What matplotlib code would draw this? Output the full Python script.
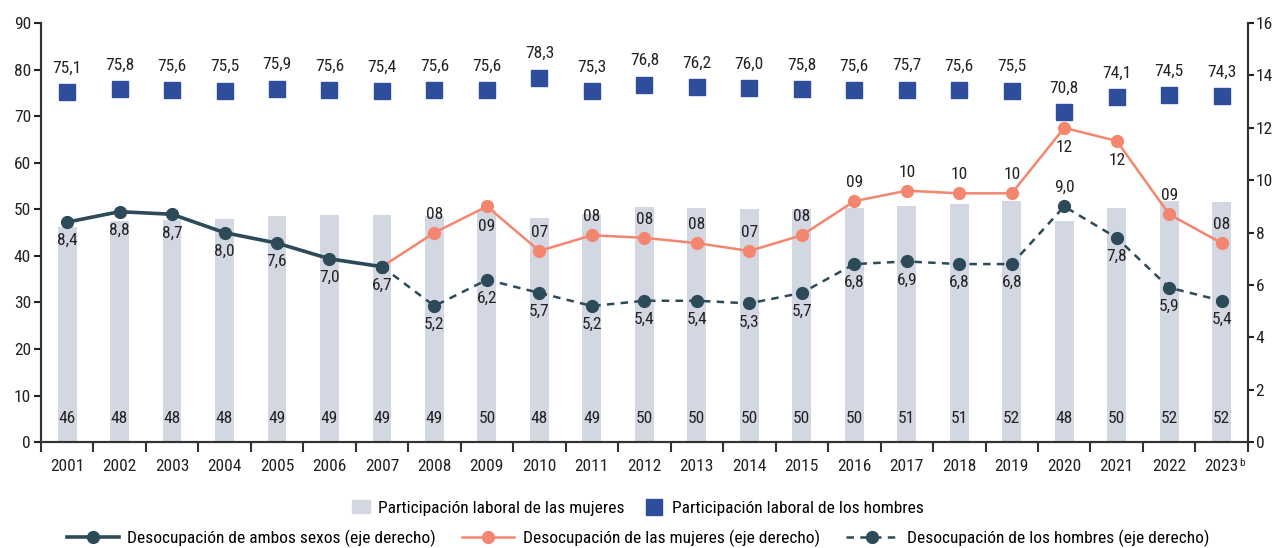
import numpy as np
import matplotlib
matplotlib.use("Agg")
import matplotlib.pyplot as plt
from matplotlib import font_manager
from matplotlib.lines import Line2D
from matplotlib.patches import Patch

# pick a narrow font if there is one
names = {f.name for f in font_manager.fontManager.ttflist}
font = "DejaVu Sans"
for cand in ["Liberation Sans Narrow", "Roboto Condensed", "DejaVu Sans Condensed", "Roboto"]:
    if cand in names:
        font = cand
        break
plt.rcParams["font.family"] = [font, "DejaVu Sans"]

years = ["2001", "2002", "2003", "2004", "2005", "2006", "2007", "2008", "2009", "2010", "2011",
         "2012", "2013", "2014", "2015", "2016", "2017", "2018", "2019", "2020", "2021", "2022", "2023"]
women_part = [46.2, 47.6, 47.7, 48.0, 48.6, 48.8, 48.8, 48.6, 49.8, 48.2, 49.0,
              50.4, 50.2, 50.0, 50.0, 50.2, 50.8, 51.2, 51.8, 47.6, 50.2, 51.8, 51.6]
women_part_lbl = ["46", "48", "48", "48", "49", "49", "49", "49", "50", "48", "49",
                  "50", "50", "50", "50", "50", "51", "51", "52", "48", "50", "52", "52"]
men_part = [75.1, 75.8, 75.6, 75.5, 75.9, 75.6, 75.4, 75.6, 75.6, 78.3, 75.3,
            76.8, 76.2, 76.0, 75.8, 75.6, 75.7, 75.6, 75.5, 70.8, 74.1, 74.5, 74.3]
both_unemp = [8.4, 8.8, 8.7, 8.0, 7.6, 7.0, 6.7] + [np.nan] * 16
women_unemp = [np.nan] * 6 + [6.7, 8.0, 9.0, 7.3, 7.9, 7.8, 7.6, 7.3, 7.9, 9.2, 9.6, 9.5, 9.5,
                              12.0, 11.5, 8.7, 7.6]
women_unemp_lbl = [None] * 7 + ["08", "09", "07", "08", "08", "08", "07", "08", "09", "10", "10", "10",
                                "12", "12", "09", "08"]
men_unemp = [np.nan] * 6 + [6.7, 5.2, 6.2, 5.7, 5.2, 5.4, 5.4, 5.3, 5.7, 6.8, 6.9, 6.8, 6.8,
                            9.0, 7.8, 5.9, 5.4]

c_bar = "#d3d7e2"
c_sq = "#2e4e9c"
c_dark = "#2c4a57"
c_women = "#f4866f"
txt = "#222222"
fs = 12.5

x = np.arange(len(years))

fig = plt.figure(figsize=(12.76, 5.48), dpi=100)
ax = fig.add_axes([0.032, 0.193, 0.946, 0.765])
ax2 = ax.twinx()

ax.bar(x, women_part, width=0.36, color=c_bar, zorder=1)
for i, lbl in enumerate(women_part_lbl):
    ax.text(x[i], 5, lbl, ha="center", va="center", fontsize=fs, color=txt)

ax.plot(x, men_part, ls="none", marker="s", ms=11, color=c_sq, zorder=3)
for i, v in enumerate(men_part):
    ax.annotate(f"{v:.1f}".replace(".", ","), (x[i], v), xytext=(0, 12), textcoords="offset points",
                ha="center", va="bottom", fontsize=fs, color=txt)

ax2.plot(x, both_unemp, color=c_dark, lw=2.6, marker="o", ms=8.5, zorder=4)
ax2.plot(x, women_unemp, color=c_women, lw=1.8, marker="o", ms=8.5, zorder=3)
ax2.plot(x, men_unemp, color=c_dark, lw=1.8, ls=(0, (3, 2.5)), marker="o", ms=8.5, zorder=3)

for i, v in enumerate(both_unemp):
    if not np.isnan(v):
        ax2.annotate(f"{v:.1f}".replace(".", ","), (x[i], v), xytext=(0, -8), textcoords="offset points",
                     ha="center", va="top", fontsize=fs, color=txt)

women_below = {8, 19, 20}
for i, lbl in enumerate(women_unemp_lbl):
    if lbl is None:
        continue
    if i in women_below:
        ax2.annotate(lbl, (x[i], women_unemp[i]), xytext=(0, -9), textcoords="offset points",
                     ha="center", va="top", fontsize=fs, color=txt)
    else:
        ax2.annotate(lbl, (x[i], women_unemp[i]), xytext=(0, 8), textcoords="offset points",
                     ha="center", va="bottom", fontsize=fs, color=txt)

for i, v in enumerate(men_unemp):
    if np.isnan(v) or i == 6:
        continue
    if i == 19:
        ax2.annotate(f"{v:.1f}".replace(".", ","), (x[i], v), xytext=(0, 8), textcoords="offset points",
                     ha="center", va="bottom", fontsize=fs, color=txt)
    else:
        ax2.annotate(f"{v:.1f}".replace(".", ","), (x[i], v), xytext=(0, -8), textcoords="offset points",
                     ha="center", va="top", fontsize=fs, color=txt)

ax.set_xlim(-0.5, len(years) - 0.5)
ax.set_ylim(0, 90)
ax2.set_ylim(0, 16)
ax.set_yticks(np.arange(0, 91, 10))
ax2.set_yticks(np.arange(0, 17, 2))
ax.set_xticks(x)
ax.set_xticklabels(years)
ax.set_xticks(np.arange(-0.5, len(years), 1), minor=True)
ax.tick_params(axis="x", which="major", length=0, pad=12, labelsize=fs, colors=txt)
ax.tick_params(axis="x", which="minor", length=7, width=1.5, color="#333333")
ax.tick_params(axis="y", length=5, width=1.5, pad=2, labelsize=fs, colors=txt)
ax2.tick_params(axis="y", length=4, width=1.5, pad=1.5, labelsize=fs, colors=txt)

# superscript b on the last year
ax.annotate("b", xy=(x[-1], 0), xycoords=("data", "axes fraction"), xytext=(12.5, -11),
            textcoords="offset points", ha="left", va="top", fontsize=8, color=txt)

for a in (ax, ax2):
    a.spines["top"].set_visible(False)
    for s in ("left", "right", "bottom"):
        a.spines[s].set_linewidth(1.5)
        a.spines[s].set_color("#333333")

# legends
h1 = [Patch(color=c_bar), Line2D([], [], ls="none", marker="s", ms=11, color=c_sq)]
fig.legend(h1, ["Participación laboral de las mujeres", "Participación laboral de los hombres"],
           loc="center", bbox_to_anchor=(0.5, 1 - 508 / 548), ncol=2, frameon=False,
           fontsize=fs, handlelength=1.0, handletextpad=0.5, columnspacing=1.2)
h2 = [Line2D([], [], color=c_dark, lw=2.6, marker="o", ms=8.5),
      Line2D([], [], color=c_women, lw=1.8, marker="o", ms=8.5),
      Line2D([], [], color=c_dark, lw=1.8, ls=(0, (3, 2.5)), marker="o", ms=8.5)]
fig.legend(h2, ["Desocupación de ambos sexos (eje derecho)", "Desocupación de las mujeres (eje derecho)",
                "Desocupación de los hombres (eje derecho)"],
           loc="center", bbox_to_anchor=(0.5, 1 - 538 / 548), ncol=3, frameon=False,
           fontsize=fs, handlelength=3.0, handletextpad=0.5, columnspacing=1.5)

fig.savefig("out.png", dpi=100)
